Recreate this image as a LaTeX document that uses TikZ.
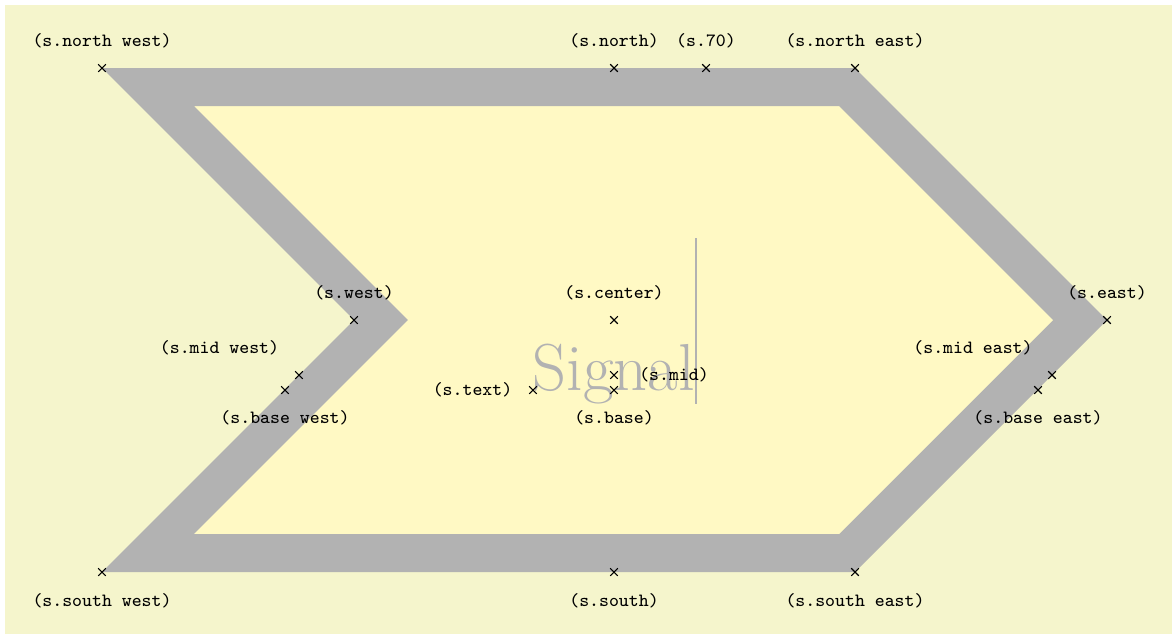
\documentclass[tikz,border=0pt]{standalone}
\definecolor{graphicbackground}{rgb}{0.96,0.96,0.8}
\definecolor{shapefill}{RGB}{255,249,196}
\begin{document}
\begin{tikzpicture}[x=0.3744pt,y=-0.3744pt,
  xmk/.style={draw=black,line width=0.4pt},
  lbl/.style={font=\ttfamily\scriptsize,inner sep=0pt,anchor=center},
  shapestroke/.style={draw=black!30,fill=shapefill,line width=38*0.3744pt,miter limit=10}]
\useasboundingbox (0,0) rectangle (1172,634);
\fill[graphicbackground] (5,5) rectangle (1172,634);
% signal shape (centre line of the stroke)
\draw[shapestroke] (147.9,87) -- (847.1,87) -- (1080.1,320) -- (847.1,553) -- (147.9,553) -- (380.9,320) -- cycle;
% text
\node[anchor=base west,inner sep=0pt,text=black!30,font=\Huge] (txt) at (532,390) {Signal\vrule width 1pt height 2cm};
% anchors
\foreach \n/\x/\y in {nw/102/68, n/614/68, a70/706/68, ne/855/68, e/1107/320, w/354/320, c/614/320,
  mw/299/375, bw/285/390, t/533/390, b/614/390, m/614/375, me/1052/375, be/1038/390,
  sw/102/572, s/614/572, se/855/572}{
  \coordinate (\n) at (\x,\y);
  \draw[xmk] (\n) +(-3.8,-3.8) -- +(3.8,3.8) (\n) +(-3.8,3.8) -- +(3.8,-3.8);
}
\node[lbl] (lnw) at (102,41) {(s.north west)};
\node[lbl] (ln) at (614,41) {(s.north)};
\node[lbl] (l70) at (706,41) {(s.70)};
\node[lbl] (lne) at (855,41) {(s.north east)};
\node[lbl] (le) at (1107,293) {(s.east)};
\node[lbl] (lw) at (354,293) {(s.west)};
\node[lbl] (lc) at (614,293) {(s.center)};
\node[lbl] (lmw) at (219.5,348) {(s.mid west)};
\node[lbl] (lbw) at (285,418) {(s.base west)};
\node[lbl] (lt) at (472.5,390) {(s.text)};
\node[lbl] (lb) at (614,418) {(s.base)};
\node[lbl] (lm) at (674,375) {(s.mid)};
\node[lbl] (lme) at (973,348) {(s.mid east)};
\node[lbl] (lbe) at (1038,418) {(s.base east)};
\node[lbl] (lsw) at (102,601) {(s.south west)};
\node[lbl] (ls) at (614,601) {(s.south)};
\node[lbl] (lse) at (855,601) {(s.south east)};
\end{tikzpicture}
\end{document}
